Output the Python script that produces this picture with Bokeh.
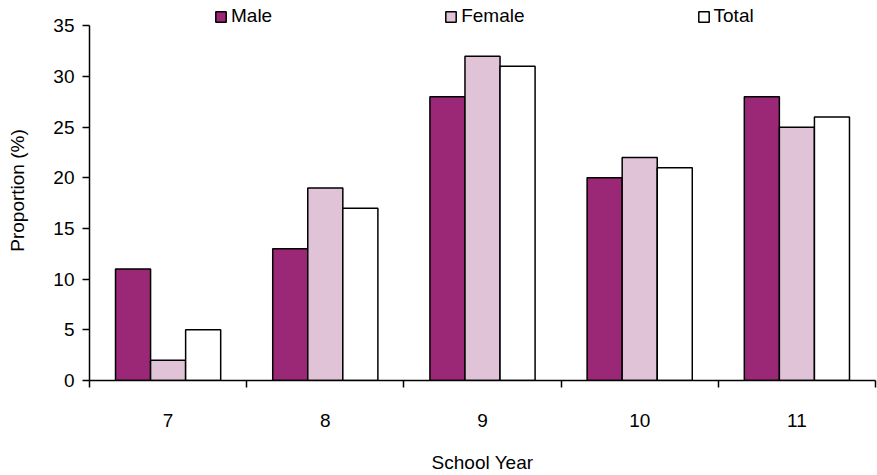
import numpy as np
from bokeh.plotting import figure
from bokeh.models import FixedTicker, Range1d, Legend, LegendItem
from bokeh.embed import file_html
from bokeh.resources import INLINE

# School years and proportion (%) for each group
years = ["7", "8", "9", "10", "11"]
male = [11, 13, 28, 20, 28]
female = [2, 19, 32, 22, 25]
total = [5, 17, 31, 21, 26]

series_names = ["Male", "Female", "Total"]
series_colors = ["#9B2777", "#E0C3D7", "#FFFFFF"]

FONT = "Liberation Sans"
BAR_W = 0.223

# the frame reaches the top edge so the legend row sits inside it;
# the y axis itself is bounded to 0-35
p = figure(width=877, height=475, output_backend="svg", toolbar_location=None,
           x_range=Range1d(0, len(years)), y_range=Range1d(0, 37.5),
           min_border_left=89, min_border_right=2, min_border_top=0,
           min_border_bottom=95)
p.outline_line_color = None
p.grid.visible = False
p.background_fill_color = "white"
p.border_fill_color = "white"

centers = np.arange(len(years)) + 0.5
renderers = []
for k, (vals, col) in enumerate(zip([male, female, total], series_colors)):
    r = p.vbar(x=centers + (k - 1) * BAR_W, top=vals, width=BAR_W, bottom=0,
               fill_color=col, line_color="black", line_width=1.5)
    renderers.append(r)

# x axis: labels at category centres, boundary marks as minor ticks
xa = p.xaxis[0]
xa.ticker = FixedTicker(ticks=list(centers), minor_ticks=list(range(len(years) + 1)))
xa.major_label_overrides = {float(c): y for c, y in zip(centers, years)}
xa.major_tick_out = 0
xa.major_tick_in = 0
xa.minor_tick_out = 7
xa.minor_tick_in = 0
xa.minor_tick_line_color = "black"
xa.minor_tick_line_width = 1.5
xa.major_label_standoff = 26
xa.axis_line_width = 1.5
xa.axis_line_color = "black"
xa.axis_label = "School Year"
xa.axis_label_standoff = 22

ya = p.yaxis[0]
ya.ticker = FixedTicker(ticks=list(range(0, 36, 5)))
ya.bounds = (0, 35)
ya.minor_tick_line_color = None
ya.major_tick_out = 7
ya.major_tick_in = 0
ya.major_tick_line_width = 1.5
ya.major_tick_line_color = "black"
ya.major_label_standoff = 8
ya.axis_line_width = 1.5
ya.axis_line_color = "black"
ya.axis_label = "Proportion (%)"
ya.axis_label_standoff = 22

for ax in (xa, ya):
    ax.major_label_text_font = FONT
    ax.major_label_text_font_size = "19px"
    ax.major_label_text_color = "black"
    ax.axis_label_text_font = FONT
    ax.axis_label_text_font_size = "19px"
    ax.axis_label_text_font_style = "normal"
    ax.axis_label_text_color = "black"

legend = Legend(
    items=[LegendItem(label=n, renderers=[r]) for n, r in zip(series_names, renderers)],
    orientation="horizontal", location=(125, 353),
    spacing=172, glyph_width=13, glyph_height=13, label_standoff=4,
    padding=0, margin=0, border_line_color=None, background_fill_alpha=0,
    label_text_font=FONT, label_text_font_size="19px", label_text_color="black",
)
p.add_layout(legend, "center")

open("out.html", "w").write(file_html(p, INLINE))
